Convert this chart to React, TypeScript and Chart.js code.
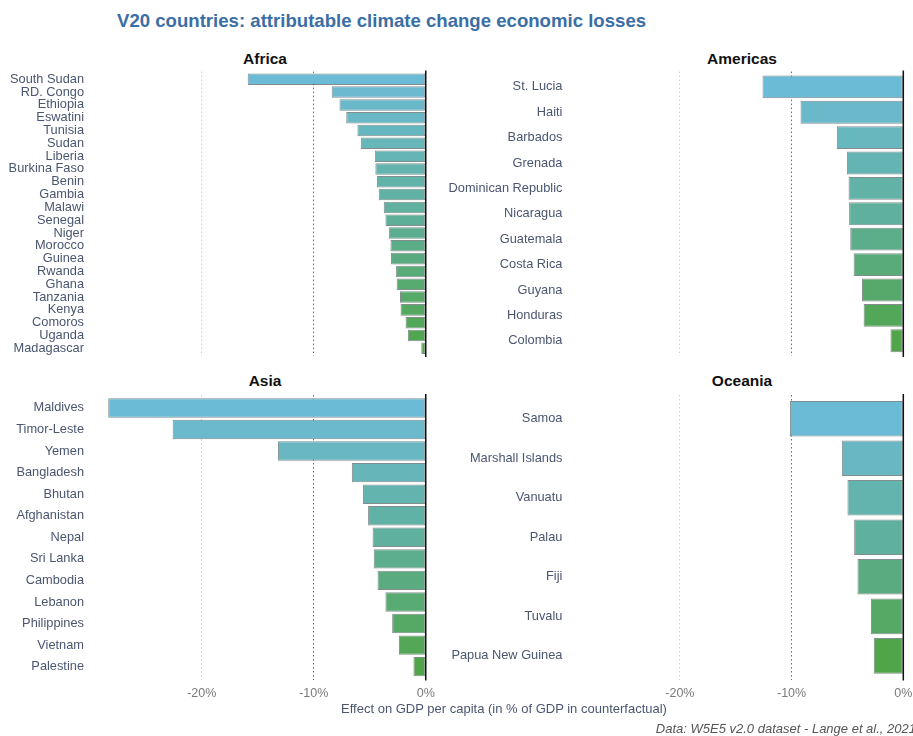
import React, { useEffect, useRef } from "react";
import { Chart, registerables } from "chart.js";

Chart.register(...registerables);

const FONT = "'Liberation Sans', Arial, sans-serif";

const TITLE = "V20 countries: attributable climate change economic losses";
const X_TITLE = "Effect on GDP per capita (in % of GDP in counterfactual)";
const CAPTION = "Data: W5E5 v2.0 dataset - Lange et al., 2021";

const africaCountries = [
  "South Sudan", "RD. Congo", "Ethiopia", "Eswatini", "Tunisia", "Sudan", "Liberia",
  "Burkina Faso", "Benin", "Gambia", "Malawi", "Senegal", "Niger", "Morocco", "Guinea",
  "Rwanda", "Ghana", "Tanzania", "Kenya", "Comoros", "Uganda", "Madagascar",
];
const africaValues = [
  -15.9, -8.4, -7.7, -7.1, -6.1, -5.8, -4.55, -4.5, -4.35, -4.2, -3.75, -3.6, -3.3,
  -3.15, -3.1, -2.65, -2.6, -2.3, -2.25, -1.8, -1.6, -0.4,
];

const americasCountries = [
  "St. Lucia", "Haiti", "Barbados", "Grenada", "Dominican Republic", "Nicaragua",
  "Guatemala", "Costa Rica", "Guyana", "Honduras", "Colombia",
];
const americasValues = [-12.6, -9.2, -5.95, -5.05, -4.9, -4.85, -4.75, -4.45, -3.7, -3.55, -1.15];

const asiaCountries = [
  "Maldives", "Timor-Leste", "Yemen", "Bangladesh", "Bhutan", "Afghanistan", "Nepal",
  "Sri Lanka", "Cambodia", "Lebanon", "Philippines", "Vietnam", "Palestine",
];
const asiaValues = [-28.35, -22.6, -13.2, -6.6, -5.6, -5.15, -4.75, -4.65, -4.3, -3.6, -3.0, -2.4, -1.1];

const oceaniaCountries = [
  "Samoa", "Marshall Islands", "Vanuatu", "Palau", "Fiji", "Tuvalu", "Papua New Guinea",
];
const oceaniaValues = [-10.15, -5.5, -5.0, -4.4, -4.1, -2.9, -2.65];

const X_TICKS = [-20, -10, 0];
const X_MIN = -29.8;
const X_MAX = 1.45;

const STOPS: number[][] = [
  [0x6c, 0xbb, 0xd6],
  [0x5f, 0xb0, 0x9c],
  [0x50, 0xa5, 0x48],
];

function gradientColor(t: number): string {
  const seg = t <= 0.5 ? 0 : 1;
  const lt = t <= 0.5 ? t / 0.5 : (t - 0.5) / 0.5;
  const a = STOPS[seg];
  const b = STOPS[seg + 1];
  const c = a.map((v, i) => Math.round(v + (b[i] - v) * lt));
  return `rgb(${c[0]},${c[1]},${c[2]})`;
}

const zeroLine = {
  id: "zeroLine",
  afterDatasetsDraw(chart: any) {
    const x = chart.scales.x.getPixelForValue(0);
    const { top, bottom } = chart.chartArea;
    const ctx = chart.ctx;
    ctx.save();
    ctx.strokeStyle = "#111";
    ctx.lineWidth = 1.5;
    ctx.beginPath();
    ctx.moveTo(x, top - 1);
    ctx.lineTo(x, bottom + 1);
    ctx.stroke();
    ctx.restore();
  },
};

type PanelProps = {
  labels: string[];
  values: number[];
  showTicks: boolean;
  left: number;
  top: number;
  width: number;
  height: number;
  yWidth: number;
  padTop: number;
  padBottom: number;
  padRight: number;
  xHeight: number;
};

function Panel(p: PanelProps) {
  const ref = useRef<HTMLCanvasElement | null>(null);
  useEffect(() => {
    if (!ref.current) return;
    const n = p.labels.length;
    const chart = new Chart(ref.current, {
      type: "bar",
      data: {
        datasets: [
          {
            data: p.values.map((v, i) => ({ x: v, y: i })),
            backgroundColor: p.values.map((_, i) => gradientColor(i / (n - 1))),
            borderColor: "rgba(50,65,65,0.6)",
            borderWidth: 1,
            borderSkipped: false,
            barPercentage: 0.9,
            categoryPercentage: 1,
          } as any,
        ],
      },
      options: {
        responsive: false,
        animation: false,
        indexAxis: "y",
        layout: {
          padding: { top: p.padTop, bottom: p.padBottom, right: p.padRight, left: 0 },
        },
        plugins: {
          legend: { display: false },
          tooltip: { enabled: false },
          title: { display: false },
        },
        scales: {
          y: {
            type: "linear",
            offset: false,
            min: -0.6,
            max: n - 0.4,
            reverse: true,
            afterBuildTicks: (s: any) => {
              s.ticks = p.labels.map((_, i) => ({ value: i }));
            },
            afterFit: (s: any) => {
              s.width = p.yWidth;
              s.paddingTop = 0;
              s.paddingBottom = 0;
              s.paddingLeft = 0;
              s.paddingRight = 0;
            },
            ticks: {
              autoSkip: false,
              padding: 8,
              color: "#4a5670",
              font: { family: FONT, size: 12.8 },
              callback: (v: any) => p.labels[v as number],
            },
            grid: { display: false, drawTicks: false, offset: false },
            border: { display: false },
          },
          x: {
            type: "linear",
            min: X_MIN,
            max: X_MAX,
            afterBuildTicks: (s: any) => {
              s.ticks = X_TICKS.map((v) => ({ value: v }));
            },
            afterFit: (s: any) => {
              s.height = p.xHeight;
              s.paddingTop = 0;
              s.paddingBottom = 0;
              s.paddingLeft = 0;
              s.paddingRight = 0;
            },
            ticks: {
              display: p.showTicks,
              padding: 6,
              color: "#7a7a7a",
              font: { family: FONT, size: 12.5 },
              callback: (v: any) => `${v}%`,
            },
            grid: {
              drawTicks: false,
              lineWidth: 1,
              color: (ctx: any) => {
                const v = ctx.tick ? ctx.tick.value : null;
                if (v === -10) return "#6a6a6a";
                if (v === 0) return "rgba(0,0,0,0)";
                return "#d0d0d0";
              },
            },
            border: { display: false, dash: [1.5, 2.5] },
          },
        },
      } as any,
      plugins: [zeroLine],
    });
    return () => chart.destroy();
  }, []);
  return (
    <canvas
      ref={ref}
      width={p.width}
      height={p.height}
      style={{
        position: "absolute",
        left: p.left,
        top: p.top,
        width: p.width,
        height: p.height,
      }}
    />
  );
}

function PanelTitle({ text, cx, cy }: { text: string; cx: number; cy: number }) {
  return (
    <div
      style={{
        position: "absolute",
        left: cx - 100,
        width: 200,
        top: cy - 10,
        height: 20,
        lineHeight: "20px",
        textAlign: "center",
        fontFamily: FONT,
        fontWeight: "bold",
        fontSize: 15.5,
        color: "#111",
      }}
    >
      {text}
    </div>
  );
}

export default function App() {
  return (
    <div
      style={{
        position: "absolute",
        left: 0,
        top: 0,
        width: 913,
        height: 736,
        overflow: "hidden",
        background: "#fff",
      }}
    >
      <div
        style={{
          position: "absolute",
          left: 117,
          top: 8,
          height: 26,
          lineHeight: "26px",
          fontFamily: FONT,
          fontWeight: "bold",
          fontSize: 18.6,
          color: "#3b6ea5",
          whiteSpace: "nowrap",
        }}
      >
        {TITLE}
      </div>

      <PanelTitle text="Africa" cx={265} cy={58.5} />
      <PanelTitle text="Americas" cx={742} cy={58.5} />
      <PanelTitle text="Asia" cx={265} cy={380.5} />
      <PanelTitle text="Oceania" cx={742} cy={380.5} />

      <Panel
        labels={africaCountries}
        values={africaValues}
        showTicks={false}
        left={0}
        top={60}
        width={445}
        height={300}
        yWidth={92}
        padTop={11.6}
        padBottom={4}
        padRight={3}
        xHeight={0}
      />
      <Panel
        labels={americasCountries}
        values={americasValues}
        showTicks={false}
        left={440}
        top={60}
        width={480}
        height={300}
        yWidth={130.4}
        padTop={11.6}
        padBottom={4}
        padRight={0.5}
        xHeight={0}
      />
      <Panel
        labels={asiaCountries}
        values={asiaValues}
        showTicks={true}
        left={0}
        top={380}
        width={445}
        height={340}
        yWidth={92}
        padTop={15}
        padBottom={20.4}
        padRight={3}
        xHeight={20}
      />
      <Panel
        labels={oceaniaCountries}
        values={oceaniaValues}
        showTicks={true}
        left={440}
        top={380}
        width={480}
        height={340}
        yWidth={130.4}
        padTop={15}
        padBottom={20.4}
        padRight={0.5}
        xHeight={20}
      />

      <div
        style={{
          position: "absolute",
          left: 504 - 250,
          width: 500,
          top: 700,
          height: 18,
          lineHeight: "18px",
          textAlign: "center",
          fontFamily: FONT,
          fontSize: 13,
          color: "#4a5670",
          whiteSpace: "nowrap",
        }}
      >
        {X_TITLE}
      </div>
      <div
        style={{
          position: "absolute",
          right: -3,
          top: 720,
          height: 18,
          lineHeight: "18px",
          fontFamily: FONT,
          fontStyle: "italic",
          fontSize: 13,
          color: "#555",
          whiteSpace: "nowrap",
        }}
      >
        {CAPTION}
      </div>
    </div>
  );
}
